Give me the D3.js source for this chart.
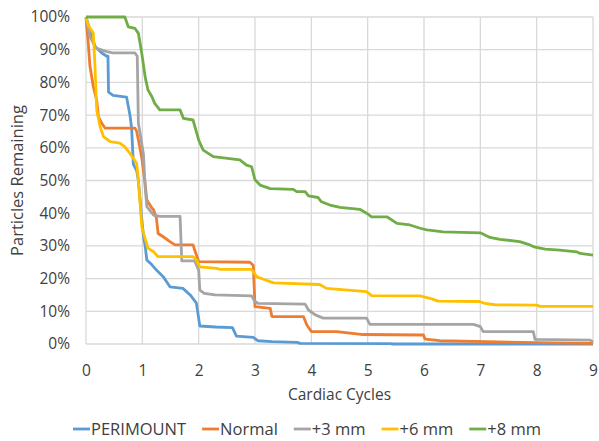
<!DOCTYPE html>
<html>
<head>
    <meta charset="utf-8">
    <style>
        body { margin: 0; background: #fff; }
        text { font-family: "Open Sans", sans-serif; fill: #404040; }
        .grid line { stroke: #d9d9d9; stroke-width: 1.3px; }
        .axis text { font-size: 15.5px; }
        .axis .domain { display: none; }
        path.series { fill: none; stroke-width: 2.8px; stroke-linejoin: round; }
    </style>
</head>
<body>
<div id="chart"></div>
<script src="https://cdn.jsdelivr.net/npm/d3@7"></script>
<script>

    var seriesNames = ["PERIMOUNT", "Normal", "+3 mm", "+6 mm", "+8 mm"];
    var seriesColors = ["#5b9bd5", "#ed7d31", "#a5a5a5", "#ffc000", "#70ad47"];

    var xTicks = [0, 1, 2, 3, 4, 5, 6, 7, 8, 9];
    var yTicks = [0, 10, 20, 30, 40, 50, 60, 70, 80, 90, 100];

    // [cardiac cycles, % remaining]
    var perimount = [[0, 100], [0.07, 96], [0.16, 91], [0.28, 89], [0.37, 88], [0.39, 88], [0.4, 77],
        [0.48, 76], [0.72, 75.5], [0.78, 70], [0.81, 66], [0.84, 55], [0.9, 53], [0.93, 50], [0.98, 40],
        [1.02, 33], [1.05, 30], [1.08, 25.7], [1.17, 24.2], [1.25, 22.6], [1.37, 20.6], [1.49, 17.5],
        [1.72, 17], [1.85, 15], [1.96, 12.5], [2.02, 5.5], [2.3, 5.2], [2.6, 5], [2.67, 2.4], [2.97, 2],
        [3.05, 1], [3.3, 0.7], [3.75, 0.5], [3.8, 0.2], [5.4, 0.1], [5.45, 0], [9, 0]];

    var normal = [[0, 99.6], [0.04, 92], [0.07, 85], [0.13, 78.7], [0.19, 74.6], [0.22, 69.5],
        [0.28, 67.5], [0.34, 66], [0.87, 66], [0.9, 65], [0.93, 62.4], [0.99, 57], [1.05, 49],
        [1.08, 44], [1.17, 41.6], [1.2, 41], [1.25, 38.5], [1.28, 33.8], [1.37, 32.8], [1.49, 31.3],
        [1.58, 30.3], [1.9, 30.3], [1.94, 28.2], [2.0, 25.2], [2.91, 25], [2.97, 24], [3.0, 11.4],
        [3.27, 10.9], [3.3, 8.4], [3.86, 8.4], [3.92, 5.8], [4.0, 3.8], [4.45, 3.8], [4.92, 2.9],
        [5.99, 2.75], [6.02, 1.5], [6.28, 1], [7.11, 0.7], [8.0, 0.4], [8.95, 0.2], [9, 0]];

    var plus3 = [[0, 100], [0.07, 94], [0.13, 92], [0.19, 90.4], [0.37, 89.4], [0.47, 89],
        [0.87, 89], [0.91, 88], [0.93, 67.5], [0.96, 64.4], [1.02, 58], [1.05, 48], [1.08, 42],
        [1.2, 39.4], [1.31, 39], [1.67, 39], [1.7, 25.4], [1.93, 25.4], [2.0, 22.6], [2.02, 16.5],
        [2.1, 15.5], [2.29, 15], [2.94, 14.7], [3.0, 13], [3.06, 12.4], [3.89, 12.2], [3.95, 10.4],
        [4.07, 8.9], [4.21, 7.9], [4.98, 7.9], [5.04, 6], [6.88, 6], [7.0, 5.3], [7.05, 3.8],
        [7.94, 3.8], [7.97, 1.4], [8.95, 1.2], [9, 0.6]];

    var plus6 = [[0, 99.6], [0.04, 97.5], [0.13, 95], [0.16, 84.8], [0.19, 71.5], [0.25, 66.5],
        [0.31, 63.4], [0.43, 61.9], [0.6, 61.4], [0.69, 60.3], [0.78, 58.3], [0.84, 56.8],
        [0.9, 55.2], [0.93, 50], [0.96, 43], [0.99, 36], [1.02, 34], [1.1, 29.3], [1.2, 28.2],
        [1.28, 26.7], [1.9, 26.7], [1.96, 25.7], [2.02, 23.6], [2.32, 23.1], [2.38, 22.8],
        [2.94, 22.8], [3.03, 20.6], [3.15, 19.8], [3.33, 18.7], [4.15, 18.2], [4.27, 17],
        [4.98, 16], [5.07, 14.8], [5.93, 14.7], [6.14, 13.8], [6.25, 13.1], [6.99, 13], [7.08, 12.4],
        [7.26, 12], [8.0, 11.9], [8.06, 11.5], [9, 11.5]];

    var plus8 = [[0, 100], [0.69, 100], [0.75, 97], [0.87, 96.5], [0.93, 95], [0.99, 88.9],
        [1.05, 81.7], [1.1, 77.7], [1.17, 75.6], [1.22, 73.6], [1.31, 71.6], [1.67, 71.6],
        [1.73, 69], [1.9, 68.5], [2.0, 62.4], [2.08, 59.3], [2.17, 58.3], [2.26, 57.3], [2.73, 56.3],
        [2.85, 54.7], [2.94, 54.2], [3.0, 50.2], [3.09, 48.6], [3.27, 47.5], [3.68, 47.3],
        [3.74, 46.6], [3.89, 46.6], [3.95, 45.3], [4.12, 44.8], [4.18, 43.5], [4.33, 42.5],
        [4.51, 41.8], [4.86, 41.2], [4.98, 40], [5.07, 38.9], [5.34, 38.9], [5.52, 36.9],
        [5.75, 36.4], [5.93, 35.4], [6.05, 34.9], [6.34, 34.3], [7.0, 34], [7.17, 32.6],
        [7.35, 32], [7.7, 31.3], [7.88, 30.3], [7.97, 29.6], [8.15, 29], [8.41, 28.7],
        [8.71, 28.2], [8.77, 27.7], [9, 27.2]];

    var seriesValues = [perimount, normal, plus3, plus6, plus8];

    var width = 599, height = 441;
    var margin = {top: 17, right: 6, bottom: 97, left: 86};
    var innerW = width - margin.left - margin.right;
    var innerH = height - margin.top - margin.bottom;

    var svg = d3.select("#chart").append("svg")
        .attr("width", width)
        .attr("height", height);

    var g = svg.append("g")
        .attr("transform", "translate(" + margin.left + "," + margin.top + ")");

    var x = d3.scaleLinear().domain([0, 9]).range([0, innerW]);
    var y = d3.scaleLinear().domain([0, 100]).range([innerH, 0]);

    // gridlines
    g.append("g").attr("class", "grid")
        .selectAll("line.h").data(yTicks).enter().append("line")
        .attr("x1", 0).attr("x2", innerW)
        .attr("y1", function (d) { return y(d); })
        .attr("y2", function (d) { return y(d); });
    g.append("g").attr("class", "grid")
        .selectAll("line.v").data(xTicks).enter().append("line")
        .attr("y1", 0).attr("y2", innerH)
        .attr("x1", function (d) { return x(d); })
        .attr("x2", function (d) { return x(d); });

    g.append("g").attr("class", "axis")
        .call(d3.axisLeft(y).tickValues(yTicks).tickSize(0).tickPadding(16)
            .tickFormat(function (d) { return d + "%"; }));

    g.append("g").attr("class", "axis")
        .attr("transform", "translate(0," + innerH + ")")
        .call(d3.axisBottom(x).tickValues(xTicks).tickSize(0).tickPadding(21));

    var line = d3.line()
        .x(function (d) { return x(d[0]); })
        .y(function (d) { return y(d[1]); });

    g.selectAll("path.series").data(seriesValues).enter().append("path")
        .attr("class", "series")
        .attr("stroke", function (d, i) { return seriesColors[i]; })
        .attr("d", line);

    // axis titles
    svg.append("text")
        .attr("x", margin.left + innerW / 2)
        .attr("y", 400)
        .attr("text-anchor", "middle")
        .style("font-size", "15.5px")
        .text("Cardiac Cycles");

    svg.append("text")
        .attr("transform", "translate(23," + (margin.top + innerH / 2) + ") rotate(-90)")
        .attr("text-anchor", "middle")
        .style("font-size", "16.5px")
        .text("Particles Remaining");

    // legend
    var legend = svg.append("g").attr("transform", "translate(73,429)");
    var lx = 0;
    seriesNames.forEach(function (name, i) {
        var item = legend.append("g").attr("transform", "translate(" + lx + ",0)");
        item.append("line")
            .attr("x1", 0).attr("x2", 17)
            .attr("stroke", seriesColors[i])
            .attr("stroke-width", 2.8);
        var t = item.append("text")
            .attr("x", 18)
            .attr("dy", "0.35em")
            .style("font-size", "16.5px")
            .text(name);
        lx += 18 + t.node().getComputedTextLength() + 16;
    });

</script>
</body>
</html>
